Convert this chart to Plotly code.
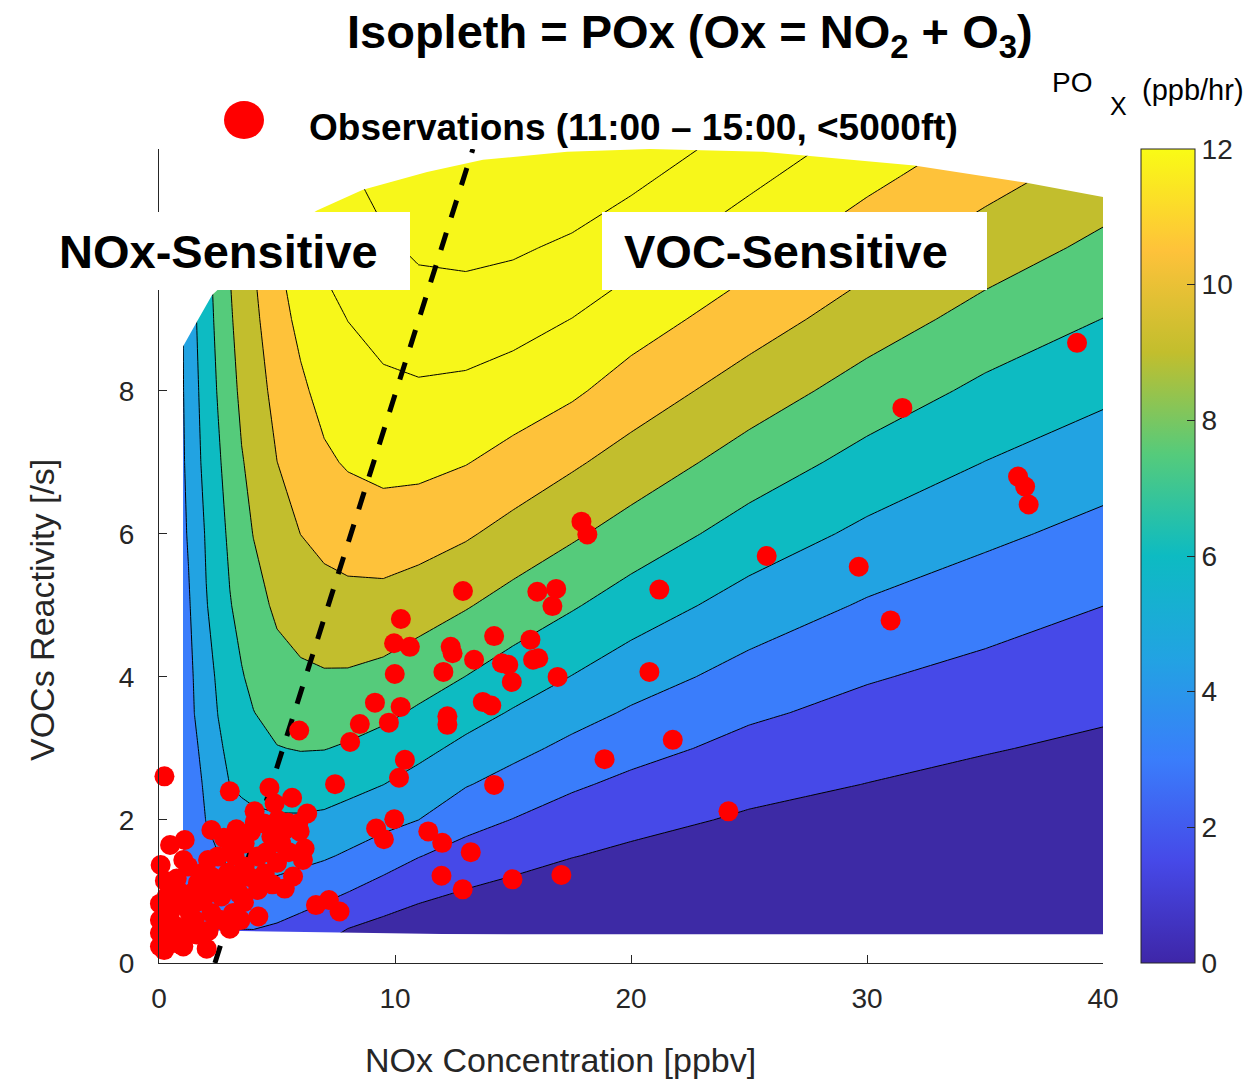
import plotly.graph_objects as go

# ---------------- data ----------------
# model grid (NOx ppbv  x  VOC reactivity /s) of POx (ppb/hr)
nox_grid = [1.0, 1.25, 1.5, 2.0, 2.5, 3.0, 3.5, 4.0, 5.0, 6.0, 7.0, 8.0, 9.5, 11.0,
            13.0, 15.0, 17.5, 20.0, 25.0, 30.0, 35.0, 40.0]
voc_grid = [0.4, 1.0, 1.5, 2.0, 2.5, 3.0, 3.5, 4.0, 5.0, 6.0, 7.0, 8.0, 9.0, 10.0, 11.0, 11.4]

# one list per NOx column, values along voc_grid
pox_by_nox = [
    [3.00, 3.10, 3.20, 3.30, 3.40, 3.50, 3.62, 3.75, 4.00, 4.25, 4.35, 4.40, 4.45, 4.50, 4.55, 4.60],
    [2.98, 3.16, 3.31, 3.46, 3.61, 3.76, 3.91, 4.07, 4.37, 4.61, 4.80, 5.00, 5.20, 5.40, 5.60, 5.70],
    [2.95, 3.27, 3.52, 3.77, 4.01, 4.26, 4.51, 4.61, 4.83, 5.05, 5.40, 5.60, 5.80, 5.95, 6.10, 6.20],
    [2.90, 3.54, 4.04, 4.54, 4.75, 4.99, 5.22, 5.46, 5.93, 6.15, 6.50, 6.70, 6.90, 7.10, 7.30, 7.40],
    [2.85, 3.76, 4.46, 4.91, 5.34, 5.77, 6.03, 6.21, 6.57, 6.93, 7.29, 7.60, 7.85, 8.10, 8.35, 8.45],
    [2.85, 3.98, 4.77, 5.41, 6.02, 6.30, 6.58, 6.86, 7.42, 7.78, 8.11, 8.44, 8.77, 9.10, 9.40, 9.50],
    [2.85, 4.07, 4.91, 5.65, 6.21, 6.61, 7.01, 7.41, 7.93, 8.42, 8.90, 9.32, 9.70, 10.10, 10.50, 10.65],
    [2.85, 4.17, 5.02, 5.76, 6.37, 6.92, 7.47, 7.80, 8.43, 9.04, 9.41, 9.78, 10.15, 10.52, 10.90, 11.00],
    [2.61, 4.08, 5.03, 5.84, 6.65, 7.45, 7.96, 8.45, 9.27, 9.88, 10.49, 10.97, 11.44, 11.93, 12.40, 12.60],
    [2.24, 3.76, 4.89, 5.83, 6.72, 7.57, 8.16, 8.75, 9.67, 10.51, 11.13, 11.75, 12.35, 12.90, 13.40, 13.60],
    [1.86, 3.41, 4.67, 5.73, 6.66, 7.54, 8.20, 8.87, 9.94, 10.90, 11.78, 12.44, 13.03, 13.80, 14.50, 14.80],
    [1.26, 3.03, 4.32, 5.43, 6.44, 7.35, 8.12, 8.85, 10.05, 11.15, 12.13, 12.83, 13.52, 14.18, 14.80, 15.06],
    [0.85, 2.41, 3.72, 4.95, 6.02, 6.94, 7.82, 8.61, 10.01, 11.32, 12.39, 13.21, 13.99, 14.76, 15.52, 15.80],
    [0.51, 1.89, 3.06, 4.50, 5.47, 6.41, 7.30, 8.14, 9.68, 11.13, 12.38, 13.32, 14.27, 15.23, 16.20, 16.40],
    [0.05, 1.43, 2.44, 3.49, 4.60, 5.63, 6.58, 7.48, 9.11, 10.67, 12.06, 13.19, 14.28, 15.36, 16.20, 16.40],
    [0.05, 1.09, 2.03, 2.96, 3.95, 4.92, 5.88, 6.78, 8.44, 10.00, 11.50, 12.83, 14.03, 15.20, 16.20, 16.40],
    [0.05, 0.73, 1.55, 2.36, 3.20, 4.13, 5.05, 5.96, 7.64, 9.21, 10.71, 12.24, 13.48, 14.74, 16.00, 16.40],
    [0.05, 0.47, 1.21, 1.94, 2.68, 3.48, 4.33, 5.16, 6.80, 8.40, 9.90, 11.33, 12.70, 14.04, 15.36, 15.90],
    [0.05, 0.10, 0.68, 1.31, 1.94, 2.57, 3.23, 3.96, 5.39, 6.87, 8.34, 9.79, 11.21, 12.55, 13.85, 14.37],
    [0.05, 0.08, 0.39, 0.93, 1.48, 2.02, 2.57, 3.12, 4.35, 5.68, 7.00, 8.37, 9.75, 11.08, 12.38, 12.90],
    [0.05, 0.06, 0.11, 0.60, 1.10, 1.59, 2.08, 2.58, 3.65, 4.80, 5.98, 7.18, 8.47, 9.77, 11.05, 11.56],
    [0.05, 0.05, 0.06, 0.35, 0.79, 1.23, 1.68, 2.12, 3.01, 4.07, 5.16, 6.30, 7.48, 8.66, 9.84, 10.31],
]

# outline of the modelled domain (outside it the plot is blank)
domain_top_nox = [40.0, 36.7, 32.0, 25.6, 20.8, 17.29, 13.73, 11.36, 8.64, 6.69, 5.55, 4.28, 2.58, 2.25, 1.61, 1.017]
domain_top_voc = [10.71, 10.91, 11.15, 11.34, 11.38, 11.34, 11.23, 11.06, 10.81, 10.52, 10.28, 9.97, 9.44, 9.34, 8.97, 8.62]
domain_bottom_nox = [1.017, 14.87, 40.0]
domain_bottom_voc = [0.46, 0.39, 0.35]

# NOx-/VOC-sensitive dividing line
ridge_nox = [2.37, 13.3]
ridge_voc = [0.0, 11.38]

# observations (NOx ppbv, VOC reactivity /s)
obs_nox = [
    38.9, 31.5, 36.4, 36.7, 36.85, 17.9, 18.15, 25.75, 29.65, 12.88, 16.03, 16.83, 16.67, 21.2,
    10.25, 9.96, 10.63, 12.36, 12.44, 14.2, 15.74, 31.0, 13.35, 14.53, 14.8, 15.85, 16.07, 9.99,
    12.05, 20.78, 16.89, 14.95, 9.15, 13.72, 14.08, 10.24, 12.22, 12.22, 8.51, 9.74, 5.94, 8.1,
    21.77, 10.42, 18.88, 10.17, 7.46, 14.2, 0.23, 24.13, 9.97, 9.2, 9.53, 11.41, 12.0, 13.21,
    11.97, 12.87, 14.98, 17.05, 6.65, 7.2, 7.65, 4.21, 2.02,
    3.0, 4.68, 5.64, 4.9, 6.28, 4.05, 5.04, 5.47, 5.96, 3.28, 2.22, 1.09, 0.47, 0.07, 1.03, 0.75,
    4.76, 5.18, 6.17, 6.1, 5.68, 5.33, 4.19, 3.14, 2.64, 3.63, 4.19, 3.63, 2.92, 2.22, 1.65, 0.8,
    1.09, 1.51, 2.22, 4.48, 3.06, 2.5, 2.08, 1.23, 1.79, 3.35, 2.64, 1.94, 1.37, 0.04, 0.33, 0.04,
    0.04, 0.04, 0.6, 1.03, 0.47, 0.75, 0.33, 4.06, 4.45, 3.9, 2.75, 3.2, 4.55, 5.0, 5.5, 4.8,
    3.6, 2.9, 1.9, 1.4, 0.5, 0.25, 0.6, 1.3, 2.1, 3.0, 1.6, 1.2, 0.6, 0.2, 0.22, 0.9, 1.6, 2.4,
    3.4, 3.85, 5.9, 5.3, 3.45,
]
obs_voc = [
    8.67, 7.76, 6.80, 6.66, 6.41, 6.17, 5.99, 5.69, 5.54, 5.20, 5.19, 5.23, 4.99, 5.22,
    4.81, 4.47, 4.42, 4.42, 4.33, 4.57, 4.52, 4.79, 4.24, 4.19, 4.17, 4.24, 4.26, 4.04,
    4.07, 4.07, 4.00, 3.93, 3.64, 3.65, 3.60, 3.58, 3.45, 3.33, 3.34, 3.36, 3.25, 3.09,
    3.12, 2.84, 2.85, 2.59, 2.50, 2.49, 2.61, 2.12, 2.01, 1.88, 1.73, 1.84, 1.68, 1.55,
    1.22, 1.03, 1.17, 1.23, 0.81, 0.88, 0.72, 0.65, 0.20,
    2.40, 2.45, 2.31, 2.23, 2.09, 2.12, 2.00, 1.96, 1.84, 1.87, 1.86, 1.72, 1.65, 1.37, 1.44, 1.18,
    1.77, 1.67, 1.60, 1.44, 1.21, 1.04, 1.02, 0.70, 0.60, 1.67, 1.49, 1.35, 1.26, 1.21, 1.12, 1.02,
    0.79, 0.60, 0.70, 1.25, 1.63, 1.49, 1.44, 1.35, 1.25, 1.16, 0.93, 0.93, 0.56, 0.83, 0.93, 0.60,
    0.42, 0.23, 0.28, 0.23, 0.70, 0.51, 0.32, 1.97, 1.95, 1.84, 1.75, 1.50, 1.55, 1.40, 1.55, 1.10,
    0.85, 1.08, 1.10, 0.98, 1.00, 1.15, 0.82, 0.70, 0.45, 0.48, 0.40, 0.45, 0.45, 0.55, 0.18, 0.26, 0.85, 1.05,
    0.97, 1.20, 1.95, 1.85, 0.60,
]

cbar_ticks = [0, 2, 4, 6, 8, 10, 12]
x_ticks = [0, 10, 20, 30, 40]
y_ticks = [0, 2, 4, 6, 8]

# ---------------- styling ----------------
W, H = 1249, 1084
L, R, T, B = 159, 1103, 149, 963
X_RANGE = [0, 40]
Y_RANGE = [0, 11.38]
AX = "#262626"
FONT = "Liberation Sans, Arial, Helvetica, sans-serif"

band_colors = ["#3D2AA5", "#4649E8", "#3A7DFB", "#22A3E2", "#0DBBC2",
               "#55CB7B", "#C2BE2D", "#FEC23A", "#F7F71A", "#F7F71A", "#F7F71A"]
band_scale = [[i / 10, c] for i, c in enumerate(band_colors)]
parula_scale = [[0.0, "#3E26A8"], [0.125, "#4649E8"], [0.25, "#3A7DFB"], [0.375, "#22A3E2"],
                [0.5, "#0DBBC2"], [0.625, "#55CB7B"], [0.75, "#C2BE2D"], [0.875, "#FEC23A"],
                [1.0, "#F9FB15"]]


def pxx(x):
    return (x - L) / (R - L)


def pxy(y):
    return (B - y) / (B - T)


z = [list(row) for row in zip(*pox_by_nox)]

fig = go.Figure()

fig.add_trace(go.Contour(
    x=nox_grid, y=voc_grid, z=z,
    autocontour=False,
    contours=dict(start=1.5, end=15, size=1.5, coloring="fill", showlines=True),
    colorscale=band_scale, showscale=False,
    line=dict(color="black", width=1, smoothing=0),
    hoverinfo="skip",
))

# white mask outside the modelled domain
mask_x = [-1, -1, 41, 41] + domain_top_nox + domain_bottom_nox + [41, 41]
mask_y = [-1, 12, 12, domain_top_voc[0]] + domain_top_voc + domain_bottom_voc + [domain_bottom_voc[-1], -1]
fig.add_trace(go.Scatter(x=mask_x, y=mask_y, mode="lines", fill="toself",
                         fillcolor="white", line=dict(width=0, color="white"),
                         hoverinfo="skip", showlegend=False))

fig.add_trace(go.Scatter(x=ridge_nox, y=ridge_voc, mode="lines",
                         line=dict(color="black", width=5, dash="18px,16px"),
                         hoverinfo="skip", showlegend=False))

fig.add_trace(go.Scatter(x=obs_nox, y=obs_voc, mode="markers",
                         marker=dict(color="#FF0000", size=20, line=dict(width=0)),
                         cliponaxis=False, showlegend=False))

# colorbar (continuous parula, 0-12)
fig.add_trace(go.Scatter(
    x=[None, None], y=[None, None], mode="markers", showlegend=False, hoverinfo="skip",
    marker=dict(color=[0, 12], cmin=0, cmax=12, colorscale=parula_scale, showscale=True,
                colorbar=dict(x=pxx(1141), xanchor="left", xpad=0, y=0.5, yanchor="middle",
                              len=1, lenmode="fraction", ypad=0, thickness=54,
                              thicknessmode="pixels", outlinewidth=1, outlinecolor=AX,
                              tickvals=cbar_ticks, ticks="inside", ticklen=8, tickcolor=AX,
                              tickprefix="\u00a0",
                              tickfont=dict(size=28, color=AX, family=FONT))),
))

axis_common = dict(showgrid=False, zeroline=False, showline=True, linecolor=AX, linewidth=1,
                   ticks="inside", ticklen=8, tickcolor=AX, tickwidth=1, mirror=False,
                   tickfont=dict(size=28, color=AX, family=FONT))
fig.update_xaxes(range=X_RANGE, tickvals=x_ticks, ticklabelstandoff=10, **axis_common)
fig.update_yaxes(range=Y_RANGE, tickvals=y_ticks, ticklabelstandoff=18, **axis_common)

annotations = [
    dict(x=pxx(690), y=pxy(35), text="<b>Isopleth = POx (Ox = NO<sub>2</sub> + O<sub>3</sub>)</b>",
         xanchor="center", yanchor="middle", font=dict(size=47, color="black")),
    dict(x=pxx(307), y=pxy(128), text="<b>Observations (11:00 \u2013 15:00, &lt;5000ft)</b>",
         xanchor="left", yanchor="middle", font=dict(size=37, color="black")),
    dict(x=pxx(57), y=pxy(251), text="<b>NOx-Sensitive</b>",
         xanchor="left", yanchor="middle", font=dict(size=47, color="black")),
    dict(x=pxx(622), y=pxy(251), text="<b>VOC-Sensitive</b>",
         xanchor="left", yanchor="middle", font=dict(size=47, color="black")),
    dict(x=pxx(560), y=pxy(1060), text="NOx Concentration [ppbv]",
         xanchor="center", yanchor="middle", font=dict(size=34, color=AX)),
    dict(x=pxx(42), y=pxy(610), text="VOCs Reactivity [/s]", textangle=-90,
         xanchor="center", yanchor="middle", font=dict(size=34, color=AX)),
    dict(x=pxx(1072), y=pxy(82), text="PO", xanchor="center", yanchor="middle",
         font=dict(size=28, color="black")),
    dict(x=pxx(1118), y=pxy(106), text="X", xanchor="center", yanchor="middle",
         font=dict(size=25, color="black")),
    dict(x=pxx(1193), y=pxy(90), text="(ppb/hr)", xanchor="center", yanchor="middle",
         font=dict(size=29, color="black")),
]
for a in annotations:
    a.update(xref="paper", yref="paper", showarrow=False)

shapes = [
    dict(type="rect", xref="paper", yref="paper", x0=pxx(50), x1=pxx(410), y0=pxy(290), y1=pxy(212),
         fillcolor="white", line=dict(width=0), layer="above"),
    dict(type="rect", xref="paper", yref="paper", x0=pxx(602), x1=pxx(987), y0=pxy(290), y1=pxy(212),
         fillcolor="white", line=dict(width=0), layer="above"),
    dict(type="circle", xref="paper", yref="paper", x0=pxx(224), x1=pxx(264), y0=pxy(139), y1=pxy(101),
         fillcolor="#FF0000", line=dict(width=0), layer="above"),
]

fig.update_layout(
    width=W, height=H, autosize=False,
    margin=dict(l=L, r=W - R, t=T, b=H - B, pad=0, autoexpand=False),
    paper_bgcolor="white", plot_bgcolor="white",
    font=dict(family=FONT, color=AX),
    showlegend=False,
    annotations=annotations, shapes=shapes,
)

fig.write_html("out.html", config={"displayModeBar": False})
